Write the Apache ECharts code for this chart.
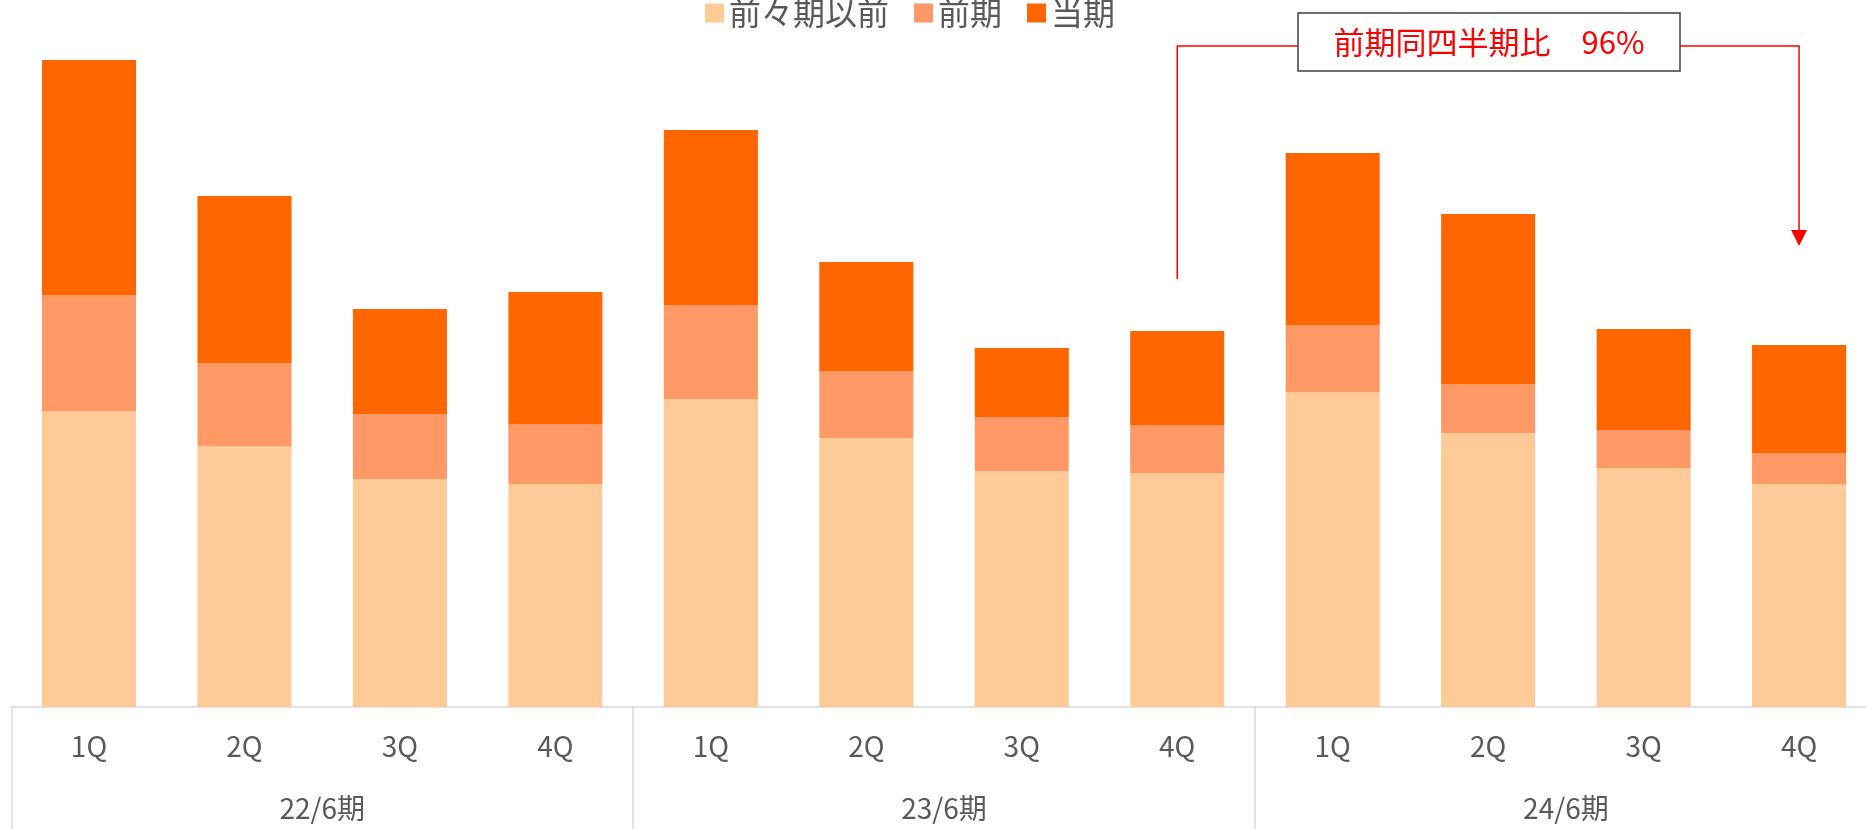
<!DOCTYPE html>
<html lang="ja">
<head>
<meta charset="utf-8">
<title>四半期別 構成推移</title>
<script src="https://cdn.jsdelivr.net/npm/echarts@6/dist/echarts.min.js"></script>
<style>
  html, body { margin: 0; padding: 0; background: #ffffff; }
  #chart { width: 1866px; height: 829px; }
</style>
</head>
<body>
<div id="chart"></div>
<script>
// Quarter and fiscal-period labels
const quarters = ['1Q', '2Q', '3Q', '4Q', '1Q', '2Q', '3Q', '4Q', '1Q', '2Q', '3Q', '4Q'];
const periods = ['22/6期', '23/6期', '24/6期'];
const seriesNames = ['前々期以前', '前期', '当期'];

// Stacked values per quarter
const olderValues = [296, 261, 228, 223, 308, 269, 236, 234, 315, 274, 239, 223];
const prevValues = [116, 83, 65, 60, 94, 67, 54, 47.5, 67, 49, 38, 31];
const currentValues = [235, 167, 105, 132, 175, 109, 69, 94.5, 172, 170, 101, 108];

// Year-on-year comparison: 24/6期 4Q against 23/6期 4Q
const compareFrom = 7;
const compareTo = 11;

const FONT = '"Noto Sans CJK JP", "Noto Sans", sans-serif';
const TEXT_GRAY = '#595959';
const colors = ['#FECA98', '#FF9966', '#FF6600'];

const chart = echarts.init(document.getElementById('chart'), null, { renderer: 'canvas' });

const totals = quarters.map((_, i) => olderValues[i] + prevValues[i] + currentValues[i]);
const ratio = Math.round(totals[compareTo] / totals[compareFrom] * 100);

const stackSeries = [olderValues, prevValues, currentValues].map((vals, i) => ({
  name: seriesNames[i],
  type: 'bar',
  stack: 'total',
  xAxisIndex: 0,
  barWidth: '60.5%',
  itemStyle: { color: colors[i] },
  emphasis: { disabled: true },
  data: vals
}));

chart.setOption({
  animation: false,
  textStyle: { fontFamily: FONT },
  legend: {
    data: seriesNames,
    left: 700,
    top: -8,
    icon: 'rect',
    itemWidth: 19,
    itemHeight: 19,
    itemGap: 25,
    textStyle: { fontSize: 32, color: TEXT_GRAY, fontFamily: FONT, lineHeight: 32 }
  },
  grid: {
    left: 11.3, top: 7, width: 1865.5, height: 700,
    containLabel: false,
    outerBoundsMode: 'none'
  },
  xAxis: [
    {
      type: 'category',
      position: 'bottom',
      data: quarters,
      axisLine: { show: true, lineStyle: { color: '#D9D9D9', width: 1.5 } },
      axisTick: { show: false },
      axisLabel: { fontSize: 28, color: TEXT_GRAY, margin: 25, fontFamily: FONT }
    },
    {
      type: 'category',
      position: 'bottom',
      offset: 0,
      data: periods,
      axisLine: { show: false },
      axisTick: { show: true, length: 125, interval: 0, lineStyle: { color: '#D9D9D9', width: 1.5 } },
      axisLabel: { fontSize: 28, color: TEXT_GRAY, margin: 87, fontFamily: FONT }
    }
  ],
  yAxis: { type: 'value', min: 0, max: 700, show: false, splitLine: { show: false } },
  series: stackSeries.concat([{
    // carrier series so the period axis is laid out
    type: 'bar', xAxisIndex: 1, data: [], silent: true
  }])
});

// Comparison callout: box with connectors from 23/6期 4Q to 24/6期 4Q
function drawCallout() {
  const xFrom = chart.convertToPixel({ xAxisIndex: 0 }, compareFrom);
  const xTo = chart.convertToPixel({ xAxisIndex: 0 }, compareTo);
  const box = { x: 1298, y: 13, w: 382, h: 58 };
  const lineY = 46;
  const red = '#FF0000';
  chart.setOption({
    graphic: [
      {
        type: 'polyline', z: 100, silent: true,
        shape: { points: [[box.x, lineY], [xFrom, lineY], [xFrom, 279]] },
        style: { stroke: red, lineWidth: 1.5, fill: null }
      },
      {
        type: 'polyline', z: 100, silent: true,
        shape: { points: [[box.x + box.w, lineY], [xTo, lineY], [xTo, 232]] },
        style: { stroke: red, lineWidth: 1.5, fill: null }
      },
      {
        type: 'polygon', z: 100, silent: true,
        shape: { points: [[xTo - 8, 230], [xTo + 8, 230], [xTo, 246]] },
        style: { fill: red }
      },
      {
        type: 'rect', z: 101, silent: true,
        shape: { x: box.x, y: box.y, width: box.w, height: box.h },
        style: { fill: '#ffffff', stroke: '#404040', lineWidth: 1.5 }
      },
      {
        type: 'text', z: 102, silent: true,
        x: box.x + box.w / 2, y: box.y + box.h / 2,
        style: {
          text: '前期同四半期比　' + ratio + '%',
          fill: red, fontSize: 31, fontFamily: FONT,
          align: 'center', verticalAlign: 'middle'
        }
      }
    ]
  });
}
drawCallout();
</script>
</body>
</html>
